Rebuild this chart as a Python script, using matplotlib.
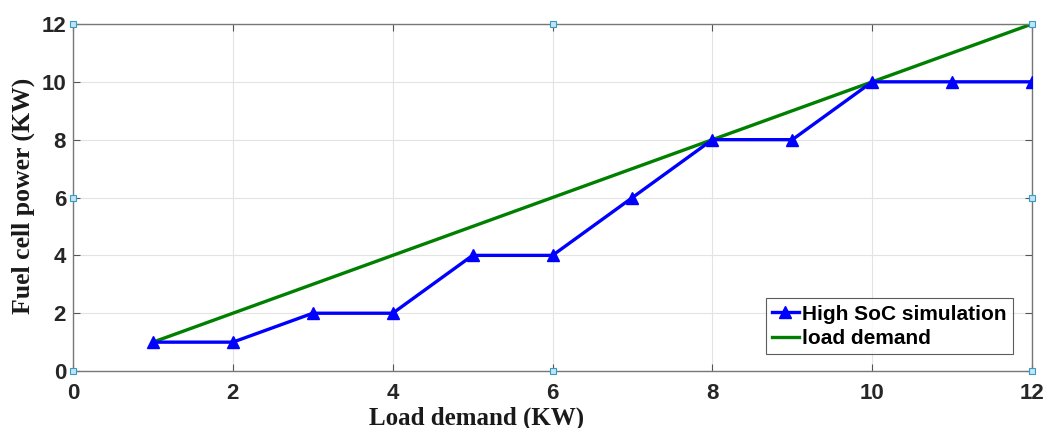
import matplotlib
matplotlib.use("Agg")
import matplotlib.pyplot as plt

load_x = [1, 2, 3, 4, 5, 6, 7, 8, 9, 10, 11, 12]
high_soc = [1, 1, 2, 2, 4, 4, 6, 8, 8, 10, 10, 10]
demand_x = [1, 12]
demand_y = [1, 12]
ticks = [0, 2, 4, 6, 8, 10, 12]

fig = plt.figure(figsize=(10.51, 4.28), dpi=100)
ax = fig.add_axes([0.0695, 0.133, 0.9125, 0.811])

ax.plot(load_x, high_soc, color='#0000ff', lw=2.4, marker='^', ms=8.5, label='High SoC simulation', zorder=3)
ax.plot(demand_x, demand_y, color='#008000', lw=2.4, label='load demand', zorder=2)

ax.set_xlim(0, 12)
ax.set_ylim(0, 12)
ax.set_xticks(ticks)
ax.set_yticks(ticks)
ax.grid(True, color='#e3e3e3', lw=0.8)
ax.set_axisbelow(True)
ax.tick_params(direction='in', length=5, color='#555555', labelsize=16, top=True, right=True)
ax.tick_params(axis='x', pad=8.5)
ax.tick_params(axis='y', pad=5)
for lab in ax.get_xticklabels() + ax.get_yticklabels():
    lab.set_fontfamily('Liberation Sans')
    lab.set_fontweight('bold')
    lab.set_color('#262626')
for s in ax.spines.values():
    s.set_color('#777777')
    s.set_linewidth(1.0)

ax.set_xlabel('Load demand (KW)', fontfamily='Liberation Serif', fontweight='bold', fontsize=18, color='#1a1a1a')
ax.xaxis.set_label_coords(0.421, -0.101, transform=ax.transAxes)
ax.xaxis.label.set_va('top')
ax.set_ylabel('Fuel cell power (KW)', fontfamily='Liberation Serif', fontweight='bold', fontsize=18.5, color='#1a1a1a')
ax.yaxis.set_label_coords(-0.040, 0.505, transform=ax.transAxes)

leg = ax.legend(loc='lower right', bbox_to_anchor=(0.980, 0.049), prop={'family': 'Liberation Sans', 'weight': 'bold', 'size': 15},
                frameon=True, fancybox=False, handlelength=1.3, handletextpad=0.15, borderpad=0.3,
                labelspacing=0.25, borderaxespad=0.0)
leg.get_frame().set_edgecolor('#333333')
leg.get_frame().set_linewidth(0.8)

# small selection squares
hx = [0, 6, 12, 0, 12, 0, 6, 12]
hy = [12, 12, 12, 6, 6, 0, 0, 0]
ax.plot(hx, hy, ls='none', marker='s', ms=4, mfc='#bfe6f5', mec='#3a9ac4', mew=0.8, clip_on=False, zorder=5)

fig.savefig('out.png', dpi=100)
